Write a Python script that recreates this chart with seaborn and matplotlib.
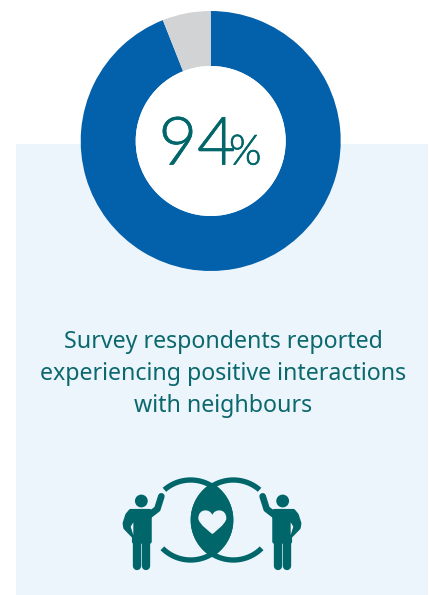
import numpy as np
import matplotlib
matplotlib.use("Agg")
import matplotlib.pyplot as plt
import matplotlib.patheffects as pe
from matplotlib import font_manager as fm
from matplotlib.patches import Rectangle, Circle, Polygon, PathPatch
from matplotlib.path import Path
import seaborn as sns

# Survey result
categories = ["Positive interactions", "Other"]
shares = [94, 6]
headline = "94"
caption_lines = [
    "Survey respondents reported",
    "experiencing positive interactions",
    "with neighbours",
]

BLUE = "#0360AA"
GREY = "#D1D3D4"
TEAL = "#00666A"
PANEL = "#ECF5FB"
W, H = 429, 595

sns.set_theme(style="white")
plt.rcParams["font.family"] = ["Noto Sans", "DejaVu Sans"]


def light_font():
    # Prefer a genuinely light cut for the large numerals
    for fam in ("Lato", "Open Sans", "Roboto", "Noto Sans"):
        for f in fm.fontManager.ttflist:
            if f.name == fam and f.weight == 300 and f.style == "normal":
                return fm.FontProperties(fname=f.fname)
    return fm.FontProperties(family="Lato")


light = light_font()

fig = plt.figure(figsize=(W / 100, H / 100), dpi=100, facecolor="white")


def pixel_axes(z):
    ax = fig.add_axes([0, 0, 1, 1], zorder=z)
    ax.set_xlim(0, W)
    ax.set_ylim(H, 0)
    ax.axis("off")
    return ax


# Tinted panel behind the lower part of the figure
back = pixel_axes(0)
back.add_patch(Rectangle((16, 144), 412, 451, color=PANEL, lw=0))

# Doughnut
cx, cy, r_out, r_in = 210.7, 141, 130, 75
donut = fig.add_axes([(cx - r_out) / W, 1 - (cy + r_out) / H, 2 * r_out / W, 2 * r_out / H], zorder=1)
donut.pie(
    shares,
    colors=[BLUE, GREY],
    startangle=90,
    counterclock=False,
    radius=1,
    wedgeprops={"width": (r_out - r_in) / r_out, "linewidth": 0},
)
donut.set_xlim(-1, 1)
donut.set_ylim(-1, 1)
donut.add_patch(Circle((0, 0), r_in / r_out, color="white", lw=0))

front = pixel_axes(2)
front.patch.set_alpha(0)

# Headline figure and caption
big = light.copy()
big.set_size(48)
small = light.copy()
small.set_size(30)
thicken = [pe.withStroke(linewidth=0.5, foreground=TEAL)]
front.text(158.5, 164.5, headline, color=TEAL, fontproperties=big, ha="left", va="baseline",
           path_effects=thicken)
front.text(229, 164.5, "%", color=TEAL, fontproperties=small, ha="left", va="baseline",
           path_effects=thicken)
for line, base in zip(caption_lines, [348, 380, 412]):
    front.text(223, base, line, color="#0B686D", fontsize=16.7, ha="center", va="baseline")


# Icon: two figures reaching around a pair of interlocking rings
def ix(x):
    return 100 + x / 3


def iy(y):
    return 460 + y / 3


ring_c = 180
ring_outer, ring_inner = 128, 112


def ring(center_x, a0, a1):
    t = np.radians(np.linspace(a0, a1, 120))
    xo = center_x + ring_outer * np.cos(t)
    yo = ring_c + ring_outer * np.sin(t)
    xi = center_x + ring_inner * np.cos(t[::-1])
    yi = ring_c + ring_inner * np.sin(t[::-1])
    return np.column_stack([ix(np.r_[xo, xi]), iy(np.r_[yo, yi])])


front.add_patch(Polygon(ring(272, -131, 135), closed=True, color=TEAL, lw=0))
front.add_patch(Polygon(ring(400, -49, -315), closed=True, color=TEAL, lw=0))

# Lens where the two discs overlap
half = np.degrees(np.arccos(64 / 128))
t1 = np.radians(np.linspace(-half, half, 80))
t2 = np.radians(np.linspace(180 - half, 180 + half, 80))
lens = np.column_stack([
    ix(np.r_[272 + 128 * np.cos(t1), 400 + 128 * np.cos(t2)]),
    iy(np.r_[ring_c + 128 * np.sin(t1), ring_c + 128 * np.sin(t2)]),
])
front.add_patch(Polygon(lens, closed=True, color=TEAL, lw=0))

# Heart inside the lens
heart_pts = [(337, 222), (337, 222), (295, 192), (295, 175), (295, 145), (330, 145),
             (337, 165), (344, 145), (379, 145), (379, 175), (379, 192), (337, 222), (337, 222)]
heart_codes = [Path.MOVETO] + [Path.CURVE4] * 12
front.add_patch(PathPatch(Path([(ix(a), iy(b)) for a, b in heart_pts], heart_codes), color=PANEL, lw=0))


def person(mirror=False):
    axis_x = 212

    def px(x):
        v = 118 + x / 3
        return 2 * axis_x - v if mirror else v

    def py(y):
        return 485 + y / 3

    def poly(points, colour=TEAL, edge=0.0):
        front.add_patch(Polygon([(px(a), py(b)) for a, b in points], closed=True, facecolor=colour,
                                edgecolor=colour, lw=edge, joinstyle="round"))

    front.add_patch(Circle((px(70), py(48)), 6.4, color=TEAL, lw=0))
    # Trunk with the near arm folded on the hip
    poly([(38, 78), (95, 78), (95, 170), (48, 170), (48, 155), (22, 128), (20, 115), (28, 90)], edge=3)
    poly([(38, 125), (46, 112), (46, 150)], PANEL)
    kw = dict(color=TEAL, solid_capstyle="round", solid_joinstyle="round")
    raised = [(92, 92), (118, 72), (130, 34)]
    front.plot([px(a) for a, b in raised], [py(b) for a, b in raised], lw=4.8, **kw)
    for leg in (57.5, 85):
        front.plot([px(leg), px(leg)], [py(160), py(243)], lw=6.0, **kw)


person()
person(mirror=True)

fig.savefig("out.png", dpi=100)
